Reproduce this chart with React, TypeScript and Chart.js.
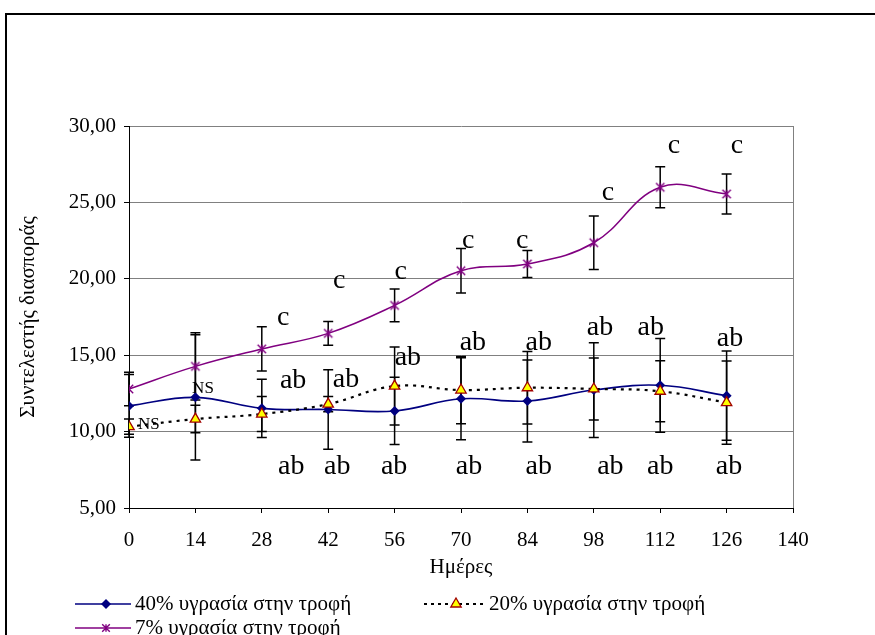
import React, { useEffect, useRef } from 'react';
import { Chart, registerables } from 'chart.js';

Chart.register(...registerables);

// ---- data ----
const days = [0, 14, 28, 42, 56, 70, 84, 98, 112, 126];
const moist40 = [11.68, 12.24, 11.52, 11.45, 11.35, 12.15, 12.0, 12.72, 13.03, 12.35];
const moist40Err = [2.05, 4.1, 1.9, 2.6, 2.2, 2.68, 2.68, 3.1, 3.07, 2.92];
const moist20 = [10.32, 10.82, 11.15, 11.8, 12.98, 12.72, 12.87, 12.79, 12.64, 11.9];
const moist20Err = [0.5, 0.9, 1.15, 0.5, 2.55, 2.2, 2.37, 2.03, 2.0, 2.72];
const moist7 = [12.79, 14.27, 15.41, 16.43, 18.26, 20.53, 20.97, 22.36, 25.99, 25.55];
const moist7Err = [1.1, 2.2, 1.45, 0.78, 1.07, 1.46, 0.88, 1.75, 1.34, 1.31];

const seriesLabels = ['40% υγρασία στην τροφή', '20% υγρασία στην τροφή', '7% υγρασία στην τροφή'];
const xTitle = 'Ημέρες';
const yTitle = 'Συντελεστής διασποράς';

// significance letters, anchored in data units (x = day, y = baseline value)
const cText = 'c';
const cX = [32.5, 44.3, 57.3, 71.5, 82.9, 101, 114.9, 128.2];
const cY = [16.98, 19.4, 19.97, 22.04, 22.04, 25.16, 28.21, 28.21];
const abText = 'ab';
const abTopX = [34.6, 45.75, 58.8, 72.5, 86.4, 99.3, 110, 126.7];
const abTopY = [12.87, 12.94, 14.36, 15.34, 15.34, 16.32, 16.32, 15.62];
const abBotX = [34.2, 43.9, 55.9, 71.7, 86.4, 101.5, 112, 126.5];
const abBotY = [7.22, 7.22, 7.22, 7.22, 7.22, 7.22, 7.22, 7.22];
const nsText = 'NS';
const nsX = [4.2, 15.6];
const nsY = [10.17, 12.5];

const FONT = "'Liberation Serif', 'Times New Roman', serif";
const NAVY = '#000080';
const PURPLE = '#800080';

function makeStar(color: string, r: number) {
  const c = document.createElement('canvas');
  const s = Math.ceil(r * 2 + 3);
  c.width = s;
  c.height = s;
  const g = c.getContext('2d')!;
  g.strokeStyle = color;
  g.lineWidth = 1.4;
  const m = s / 2;
  g.beginPath();
  g.moveTo(m - r, m - r);
  g.lineTo(m + r, m + r);
  g.moveTo(m - r, m + r);
  g.lineTo(m + r, m - r);
  g.moveTo(m, m - r);
  g.lineTo(m, m + r);
  g.stroke();
  return c;
}

function drawDiamond(ctx: CanvasRenderingContext2D, x: number, y: number, r: number, fill: string) {
  ctx.beginPath();
  ctx.moveTo(x, y - r);
  ctx.lineTo(x + r, y);
  ctx.lineTo(x, y + r);
  ctx.lineTo(x - r, y);
  ctx.closePath();
  ctx.fillStyle = fill;
  ctx.fill();
}

function drawTriangle(ctx: CanvasRenderingContext2D, x: number, y: number, r: number) {
  const h = r * 1.5;
  const w = r * Math.sqrt(3) / 2;
  ctx.beginPath();
  ctx.moveTo(x, y - r);
  ctx.lineTo(x + w, y - r + h);
  ctx.lineTo(x - w, y - r + h);
  ctx.closePath();
  ctx.fillStyle = '#FFFF00';
  ctx.fill();
  ctx.strokeStyle = '#A00000';
  ctx.lineWidth = 1.3;
  ctx.stroke();
}

const errorBarsPlugin = {
  id: 'errorBars',
  beforeDatasetsDraw(chart: any) {
    const { ctx, scales } = chart;
    const x = scales.x;
    const y = scales.y;
    ctx.save();
    ctx.strokeStyle = '#000';
    ctx.lineWidth = 1.5;
    chart.data.datasets.forEach((ds: any) => {
      const errs: number[] = ds.errors;
      if (!errs) return;
      ds.data.forEach((p: any, i: number) => {
        const px = x.getPixelForValue(p.x);
        const top = y.getPixelForValue(p.y + errs[i]);
        const bot = y.getPixelForValue(p.y - errs[i]);
        ctx.beginPath();
        ctx.moveTo(px, top);
        ctx.lineTo(px, bot);
        ctx.moveTo(px - 5, top);
        ctx.lineTo(px + 5, top);
        ctx.moveTo(px - 5, bot);
        ctx.lineTo(px + 5, bot);
        ctx.stroke();
      });
    });
    ctx.restore();
  },
};

const lettersPlugin = {
  id: 'letters',
  afterDatasetsDraw(chart: any) {
    const { ctx, scales } = chart;
    const x = scales.x;
    const y = scales.y;
    ctx.save();
    ctx.fillStyle = '#000';
    ctx.textAlign = 'center';
    ctx.textBaseline = 'alphabetic';
    const put = (t: string, xs: number[], ys: number[], size: number) => {
      ctx.font = `${size}px ${FONT}`;
      xs.forEach((v, i) => ctx.fillText(t, x.getPixelForValue(v), y.getPixelForValue(ys[i])));
    };
    put(cText, cX, cY, 28);
    put(abText, abTopX, abTopY, 28);
    put(abText, abBotX, abBotY, 28);
    put(nsText, nsX, nsY, 17);
    ctx.restore();
  },
};

const legendPlugin = {
  id: 'customLegend',
  afterDraw(chart: any) {
    const { ctx } = chart;
    ctx.save();
    ctx.font = `21px ${FONT}`;
    ctx.textBaseline = 'middle';
    ctx.textAlign = 'left';
    // row 1, item 1
    let yy = 604;
    ctx.strokeStyle = NAVY;
    ctx.lineWidth = 1.5;
    ctx.beginPath();
    ctx.moveTo(75, yy);
    ctx.lineTo(131, yy);
    ctx.stroke();
    drawDiamond(ctx, 106, yy, 5, NAVY);
    ctx.fillStyle = '#000';
    ctx.fillText(seriesLabels[0], 135, yy);
    // row 1, item 2
    ctx.strokeStyle = '#000';
    ctx.lineWidth = 2.2;
    ctx.setLineDash([3, 4]);
    ctx.beginPath();
    ctx.moveTo(424, yy);
    ctx.lineTo(486, yy);
    ctx.stroke();
    ctx.setLineDash([]);
    drawTriangle(ctx, 456, yy, 6);
    ctx.fillStyle = '#000';
    ctx.fillText(seriesLabels[1], 489, yy);
    // row 2
    yy = 628;
    ctx.strokeStyle = PURPLE;
    ctx.lineWidth = 1.5;
    ctx.beginPath();
    ctx.moveTo(75, yy);
    ctx.lineTo(131, yy);
    ctx.stroke();
    ctx.beginPath();
    const r = 3.8;
    ctx.lineWidth = 1.4;
    ctx.moveTo(106 - r, yy - r);
    ctx.lineTo(106 + r, yy + r);
    ctx.moveTo(106 - r, yy + r);
    ctx.lineTo(106 + r, yy - r);
    ctx.moveTo(106, yy - r);
    ctx.lineTo(106, yy + r);
    ctx.stroke();
    ctx.fillStyle = '#000';
    ctx.fillText(seriesLabels[2], 135, yy);
    ctx.restore();
  },
};

export default function App() {
  const ref = useRef<HTMLCanvasElement | null>(null);

  useEffect(() => {
    if (!ref.current) return;
    const star = makeStar(PURPLE, 4.2);
    const toPts = (vals: number[]) => days.map((d, i) => ({ x: d, y: vals[i] }));
    const chart = new Chart(ref.current, {
      type: 'line',
      data: {
        datasets: [
          {
            label: seriesLabels[0],
            data: toPts(moist40),
            errors: moist40Err,
            borderColor: NAVY,
            borderWidth: 1.6,
            backgroundColor: NAVY,
            pointStyle: 'rectRot',
            pointRadius: 5,
            pointBorderWidth: 0,
            pointBackgroundColor: NAVY,
            tension: 0.4,
            order: 3,
          } as any,
          {
            label: seriesLabels[1],
            data: toPts(moist20),
            errors: moist20Err,
            borderColor: '#000',
            borderWidth: 2.2,
            borderDash: [3, 5],
            pointStyle: 'triangle',
            pointRadius: 6,
            pointBackgroundColor: '#FFFF00',
            pointBorderColor: '#A00000',
            pointBorderWidth: 1.3,
            tension: 0.4,
            order: 2,
          } as any,
          {
            label: seriesLabels[2],
            data: toPts(moist7),
            errors: moist7Err,
            borderColor: PURPLE,
            borderWidth: 1.5,
            pointStyle: star,
            pointRadius: 4,
            tension: 0.4,
            order: 1,
          } as any,
        ],
      },
      options: {
        animation: false,
        responsive: true,
        maintainAspectRatio: false,
        layout: { padding: { left: 0, top: 126, right: 82, bottom: 55 } },
        plugins: {
          legend: { display: false },
          tooltip: { enabled: false },
        },
        scales: {
          x: {
            type: 'linear',
            min: 0,
            max: 140,
            afterFit: (s: any) => {
              s.height = 72;
            },
            ticks: {
              stepSize: 14,
              color: '#000',
              padding: 15,
              font: { family: FONT, size: 21 },
            },
            grid: {
              drawOnChartArea: true,
              color: (c: any) => (c.tick && c.tick.value === 140 ? '#808080' : 'rgba(0,0,0,0)'),
              tickColor: '#000',
              tickLength: 5,
            },
            border: { display: true, color: '#000', width: 1 },
            title: {
              display: true,
              text: xTitle,
              color: '#000',
              font: { family: FONT, size: 21 },
              padding: { top: 0, bottom: 0 },
            },
          },
          y: {
            type: 'linear',
            min: 5,
            max: 30,
            afterFit: (s: any) => {
              s.width = 129;
            },
            ticks: {
              stepSize: 5,
              color: '#000',
              padding: 8,
              font: { family: FONT, size: 21 },
              callback: (v: any) => Number(v).toFixed(2).replace('.', ','),
            },
            grid: {
              color: '#808080',
              tickColor: '#000',
              tickLength: 5,
            },
            border: { display: true, color: '#000', width: 1 },
            title: {
              display: true,
              text: yTitle,
              color: '#000',
              font: { family: FONT, size: 21 },
              padding: { top: 16, bottom: 0 },
            },
          },
        },
      },
      plugins: [errorBarsPlugin, lettersPlugin, legendPlugin],
    } as any);
    return () => chart.destroy();
  }, []);

  return (
    <div
      style={{
        position: 'fixed',
        left: 0,
        top: 0,
        width: 875,
        height: 635,
        overflow: 'hidden',
        background: '#fff',
      }}
    >
      <div
        style={{
          position: 'absolute',
          left: 5,
          top: 13,
          width: 1000,
          height: 1000,
          border: '2px solid #000',
          boxSizing: 'border-box',
        }}
      />
      <div style={{ position: 'absolute', left: 0, top: 0, width: 875, height: 635 }}>
        <canvas ref={ref} />
      </div>
    </div>
  );
}
